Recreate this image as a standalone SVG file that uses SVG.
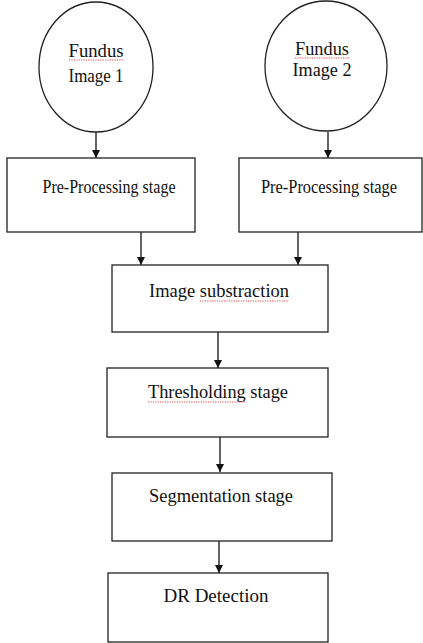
<svg xmlns="http://www.w3.org/2000/svg" width="423" height="643" viewBox="0 0 423 643">
<style>
.node{fill:#fff;stroke:#222;stroke-width:1.3}
.t{font-family:"Liberation Serif","Times New Roman",serif;font-size:18px;fill:#111;text-anchor:middle}
.c{stroke:#111;stroke-width:1.3;fill:none}
.sq{stroke:#d33;stroke-width:0.9;fill:none;stroke-dasharray:1.2 1.2}
</style>
<defs>
<marker id="ah" viewBox="0 0 10 10" refX="10" refY="5" markerWidth="8" markerHeight="8" markerUnits="userSpaceOnUse" orient="auto">
<path d="M0,0 L10,5 L0,10 Z" fill="#111"/>
</marker>
</defs>
<rect width="423" height="643" fill="#fff"/>
<g id="connectors">
<line class="c" x1="96" y1="132" x2="96" y2="158" marker-end="url(#ah)"/>
<line class="c" x1="328" y1="132" x2="328" y2="158" marker-end="url(#ah)"/>
<line class="c" x1="141" y1="232" x2="141" y2="265" marker-end="url(#ah)"/>
<line class="c" x1="298" y1="232" x2="298" y2="265" marker-end="url(#ah)"/>
<line class="c" x1="218" y1="332" x2="218" y2="368" marker-end="url(#ah)"/>
<line class="c" x1="220" y1="437" x2="220" y2="472" marker-end="url(#ah)"/>
<line class="c" x1="219" y1="541" x2="219" y2="573" marker-end="url(#ah)"/>
</g>
<g id="fundus1">
<ellipse class="node" cx="96" cy="67" rx="57" ry="65"/>
<text class="t" x="96" y="57" textLength="55" lengthAdjust="spacingAndGlyphs">Fundus</text>
<text class="t" x="96" y="82" textLength="55" lengthAdjust="spacingAndGlyphs">Image 1</text>
<path class="sq" d="M69,60 L123,60"/>
</g>
<g id="fundus2">
<ellipse class="node" cx="326" cy="66" rx="61" ry="65"/>
<text class="t" x="322" y="55" textLength="54" lengthAdjust="spacingAndGlyphs">Fundus</text>
<text class="t" x="322" y="76" textLength="59" lengthAdjust="spacingAndGlyphs">Image 2</text>
<path class="sq" d="M295,58 L349,58"/>
</g>
<g id="preproc1">
<rect class="node" x="7" y="158" width="188" height="74"/>
<text class="t" x="109" y="193" textLength="133" lengthAdjust="spacingAndGlyphs">Pre-Processing stage</text>
</g>
<g id="preproc2">
<rect class="node" x="239" y="158" width="183" height="74"/>
<text class="t" x="329" y="193" textLength="136" lengthAdjust="spacingAndGlyphs">Pre-Processing stage</text>
</g>
<g id="subtraction">
<rect class="node" x="112" y="265" width="216" height="67"/>
<text class="t" x="219" y="297" textLength="140" lengthAdjust="spacingAndGlyphs">Image substraction</text>
<path class="sq" d="M200,301 L289,301"/>
</g>
<g id="thresholding">
<rect class="node" x="107" y="368" width="221" height="69"/>
<text class="t" x="218" y="398" textLength="140" lengthAdjust="spacingAndGlyphs">Thresholding stage</text>
<path class="sq" d="M148,402 L245,402"/>
</g>
<g id="segmentation">
<rect class="node" x="112" y="473" width="220" height="68"/>
<text class="t" x="221" y="502" textLength="144" lengthAdjust="spacingAndGlyphs">Segmentation stage</text>
</g>
<g id="detection">
<rect class="node" x="108" y="573" width="220" height="69"/>
<text class="t" x="216" y="602" textLength="105" lengthAdjust="spacingAndGlyphs">DR Detection</text>
</g>
</svg>
